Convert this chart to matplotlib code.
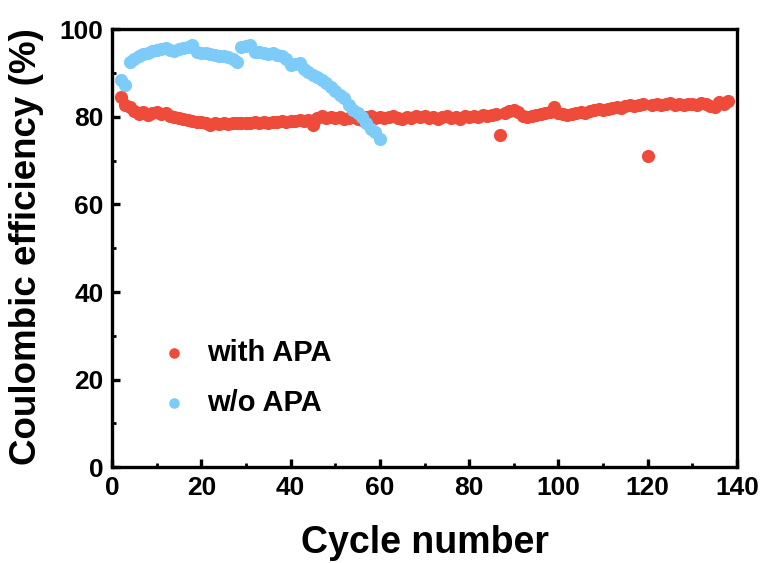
import numpy as np
import matplotlib
matplotlib.use("Agg")
import matplotlib.pyplot as plt
from matplotlib.ticker import MultipleLocator

plt.rcParams['font.family'] = ['Liberation Sans', 'DejaVu Sans']
plt.rcParams['font.weight'] = 'bold'

# Coulombic efficiency per cycle
with_apa_cycles = list(range(2, 139))
with_apa_ce = [
    84.5, 82.7, 82.2, 81.4, 80.6, 81.2, 80.5, 80.9, 81.0, 80.6,
    80.9, 80.3, 80.0, 79.7, 79.5, 79.3, 79.0, 78.8, 78.9, 78.5,
    78.2, 78.6, 78.3, 78.5, 78.3, 78.6, 78.5, 78.7, 78.5, 78.6,
    78.8, 78.6, 78.8, 78.7, 78.9, 78.8, 79.0, 78.9, 79.1, 79.0,
    79.2, 79.1, 79.3, 78.1, 79.7, 80.1, 79.8, 80.0, 79.8, 79.9,
    79.6, 79.8, 80.0, 79.6, 79.2, 79.9, 80.1, 79.8, 80.0, 79.7,
    79.9, 80.1, 79.8, 79.6, 80.0, 79.7, 80.2, 79.9, 80.1, 79.8,
    80.0, 79.6, 79.9, 80.1, 79.7, 80.0, 79.5, 80.2, 79.9, 80.3,
    80.0, 80.5, 80.2, 80.4, 80.6, 75.8, 80.8, 81.3, 81.6, 81.2,
    80.3, 80.0, 80.2, 80.4, 80.6, 80.9, 81.2, 82.2, 80.8, 80.6,
    80.5, 80.7, 80.9, 81.1, 80.8, 81.3, 81.5, 81.8, 81.6, 81.9,
    82.1, 82.3, 82.0, 82.4, 82.6, 82.5, 82.7, 82.9, 71.0, 82.6,
    83.0, 82.6, 82.9, 83.1, 82.8, 83.0, 82.7, 82.9, 83.0, 82.8,
    83.1, 82.9, 82.5, 82.3, 83.4, 83.0, 83.6,
]

without_apa_cycles = list(range(2, 61))
without_apa_ce = [
    88.4, 87.2, 92.5, 93.2, 93.8, 94.3, 94.6, 95.0, 95.2, 95.5,
    95.7, 95.3, 95.0, 95.4, 95.7, 96.0, 96.3, 94.8, 94.5, 94.6,
    94.4, 94.2, 94.0, 93.9, 93.6, 93.3, 92.5, 96.0, 96.1, 96.3,
    94.7, 94.8, 94.6, 94.4, 94.5, 94.1, 93.9, 93.3, 91.9, 92.0,
    92.2, 91.0, 90.2, 89.6, 89.0, 88.4, 87.7, 86.9, 86.0, 85.0,
    84.2, 82.7, 81.5, 80.8, 80.0, 78.5, 77.3, 76.5, 75.0,
]

series_labels = ["with APA", "w/o APA"]
series_colors = ["#EE4B3B", "#7DCBF8"]

fig = plt.figure(figsize=(7.67, 5.63), dpi=100)
ax = fig.add_axes([0.146, 0.170, 0.815, 0.778])

ax.scatter(with_apa_cycles, with_apa_ce, s=90, color=series_colors[0],
           label=series_labels[0], linewidths=0, zorder=2)
ax.scatter(without_apa_cycles, without_apa_ce, s=90, color=series_colors[1],
           label=series_labels[1], linewidths=0, zorder=3)

ax.set_xlim(0, 140)
ax.set_ylim(0, 100)
ax.xaxis.set_major_locator(MultipleLocator(20))
ax.xaxis.set_minor_locator(MultipleLocator(10))
ax.yaxis.set_major_locator(MultipleLocator(20))
ax.yaxis.set_minor_locator(MultipleLocator(10))

for sp in ax.spines.values():
    sp.set_linewidth(2.4)
ax.tick_params(which='major', direction='in', length=6, width=2.4,
               labelsize=19, pad=6)
ax.tick_params(which='minor', direction='in', length=3, width=2.0)
for lbl in ax.get_xticklabels() + ax.get_yticklabels():
    lbl.set_fontweight('bold')

ax.set_xlabel("Cycle number", fontsize=27, fontweight='bold')
ax.set_ylabel("Coulombic efficiency (%)", fontsize=26.5, fontweight='bold')
ax.xaxis.set_label_coords(0.5, -0.132)
ax.yaxis.set_label_coords(-0.108, 0.505)

leg = ax.legend(loc='lower left', bbox_to_anchor=(0.01, 0.055), frameon=False,
                prop={'size': 21, 'weight': 'bold'}, handletextpad=0.15,
                labelspacing=0.75, markerscale=0.8)

fig.savefig("out.png", dpi=100)
